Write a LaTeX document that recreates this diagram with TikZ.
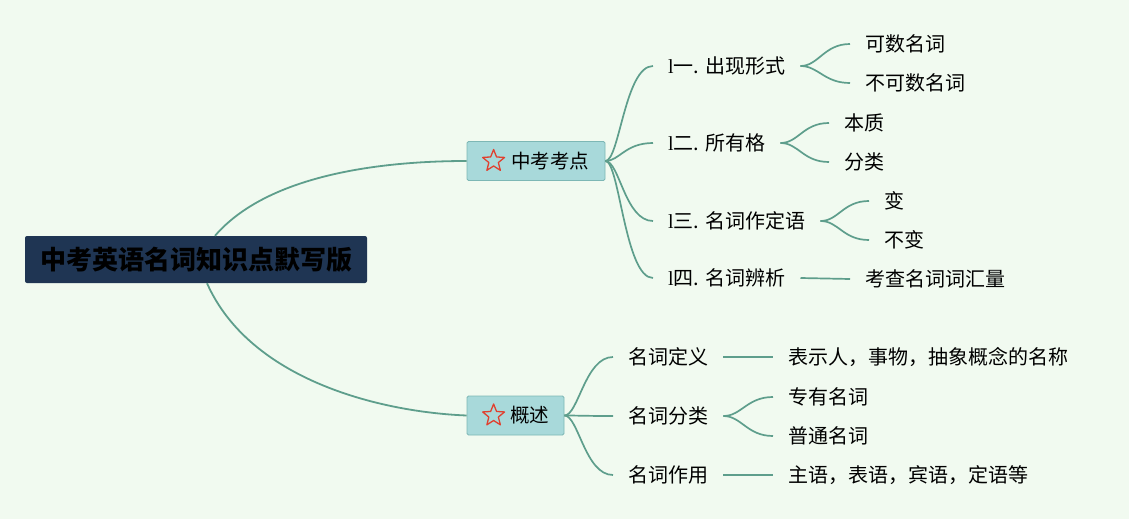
\documentclass[tikz,border=0pt]{standalone}
\usepackage{fontspec}
\setmainfont{Liberation Serif}
\newfontfamily\cjk{Noto Sans CJK SC}
\usetikzlibrary{calc,shapes.geometric}
\definecolor{bgc}{HTML}{F1FAF0}
\definecolor{rootc}{HTML}{1F3553}
\definecolor{boxc}{HTML}{A8D9DA}
\definecolor{boxb}{HTML}{7DB7B5}
\definecolor{linec}{HTML}{5E9E8C}
\definecolor{starc}{HTML}{E0402F}
\newcommand{\lx}{{\rmfamily l}}
\begin{document}
\begin{tikzpicture}[x=1pt,y=-1pt,
  txt/.style={font=\cjk\fontsize{20}{21}\selectfont, inner xsep=15pt, inner ysep=2pt, anchor=west, text=black},
  rootbox/.style={fill=rootc, rounded corners=2pt, minimum width=342pt, minimum height=47pt, inner sep=0pt,
     font=\cjk\bfseries\fontsize{26}{28}\selectfont, text=black},
  mainbox/.style={fill=boxc, draw=boxb, line width=0.8pt, rounded corners=1.5pt, minimum height=39pt, inner sep=0pt,
     font=\cjk\fontsize{19.5}{20}\selectfont, text=black},
  starmark/.style={star, star points=5, star point ratio=2.3, draw=starc, line width=1.3pt, line join=round,
     minimum size=23pt, inner sep=0pt},
  conn/.style={draw=linec, line width=1.8pt},
  br/.style={draw=linec, line width=1.7pt}
]
\useasboundingbox[fill=bgc] (0,0) rectangle (1129,519);

\node[rootbox] (root) at (196,259.5) {中考英语名词知识点默写版};
\node[mainbox, minimum width=138pt] (kd) at (536,161) {\hspace{28pt}中考考点};
\node[mainbox, minimum width=97pt] (gs) at (515.5,415.5) {\hspace{28pt}概述};
\node[starmark] (kdstar) at ($(kd.west)+(27,0)$) {};
\node[starmark] (gsstar) at ($(gs.west)+(27,0)$) {};

\draw[conn] ([xshift=19pt]root.north) .. controls (270,172) and (390,161) .. (kd.west);
\draw[conn] ([xshift=11pt]root.south) .. controls (250,380) and (380,412) .. (gs.west);

% top branches
\node[txt] (a1) at (653,66) {\lx 一. 出现形式};
\node[txt] (a2) at (653,143) {\lx 二. 所有格};
\node[txt] (a3) at (653,221) {\lx 三. 名词作定语};
\node[txt] (a4) at (653,278) {\lx 四. 名词辨析};

\foreach \n in {a1,a2,a3,a4}{
  \draw[br] (kd.east) .. controls ($(kd.east)+(14,0)$) and ($(\n.west)+(-28,0)$) .. (\n.west);
}

\node[txt] (a11) at (850,44) {可数名词};
\node[txt] (a12) at (850,83) {不可数名词};
\node[txt] (a21) at (829,123) {本质};
\node[txt] (a22) at (829,162) {分类};
\node[txt] (a31) at (869,201) {变};
\node[txt] (a32) at (869,240) {不变};
\node[txt] (a41) at (850,279) {考查名词词汇量};

\foreach \p/\c in {a1/a11,a1/a12,a2/a21,a2/a22,a3/a31,a3/a32}{
  \draw[br] (\p.east) .. controls ($(\p.east)+(18,0)$) and ($(\c.west)+(-26,0)$) .. (\c.west);
}
\draw[br] (a4.east) -- (a41.west);

% bottom branches
\node[txt] (b1) at (613,357) {名词定义};
\node[txt] (b2) at (613,416) {名词分类};
\node[txt] (b3) at (613,475) {名词作用};

\foreach \n in {b1,b2,b3}{
  \draw[br] (gs.east) .. controls ($(gs.east)+(14,0)$) and ($(\n.west)+(-28,0)$) .. (\n.west);
}

\node[txt] (b11) at (773,357) {表示人，事物，抽象概念的名称};
\node[txt] (b21) at (773,397) {专有名词};
\node[txt] (b22) at (773,436) {普通名词};
\node[txt] (b31) at (773,475) {主语，表语，宾语，定语等};

\draw[br] (b1.east) -- (b11.west);
\draw[br] (b3.east) -- (b31.west);
\foreach \c in {b21,b22}{
  \draw[br] (b2.east) .. controls ($(b2.east)+(18,0)$) and ($(\c.west)+(-26,0)$) .. (\c.west);
}
\end{tikzpicture}
\end{document}
